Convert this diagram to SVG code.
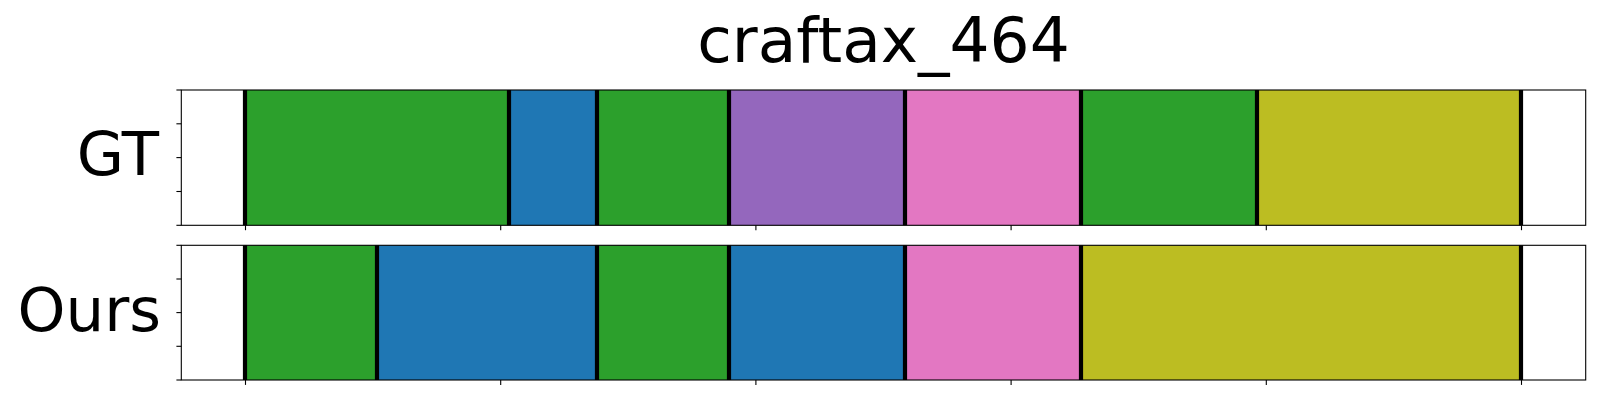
<svg xmlns="http://www.w3.org/2000/svg" width="1600" height="400" viewBox="0 0 1600 400">
<style>
  text { font-family: "DejaVu Sans", "Liberation Sans", sans-serif; fill: #000; }
  .title { font-size: 63px; text-anchor: middle; }
  .lab { font-size: 61px; text-anchor: end; }
  .green { fill: #2ca02c; }
  .blue { fill: #1f77b4; }
  .purple { fill: #9467bd; }
  .pink { fill: #e377c2; }
  .olive { fill: #bcbd22; }
  .frame { fill: none; stroke: #000; stroke-width: 1.1; }
  .tick { stroke: #000; stroke-width: 1.1; }
  .bound { stroke: #000; stroke-width: 4.2; }
</style>
<rect width="1600" height="400" fill="#fff"/>
<text class="title" x="883.5" y="61.7">craftax_464</text>

<g id="gt">
  <rect class="green" x="245" y="90" width="264" height="135.3"/>
  <rect class="blue" x="509" y="90" width="88" height="135.3"/>
  <rect class="green" x="597" y="90" width="132" height="135.3"/>
  <rect class="purple" x="729" y="90" width="176" height="135.3"/>
  <rect class="pink" x="905" y="90" width="176" height="135.3"/>
  <rect class="green" x="1081" y="90" width="176" height="135.3"/>
  <rect class="olive" x="1257" y="90" width="264" height="135.3"/>
  <g>
    <line class="bound" x1="245" y1="90" x2="245" y2="225.3"/>
    <line class="bound" x1="509" y1="90" x2="509" y2="225.3"/>
    <line class="bound" x1="597" y1="90" x2="597" y2="225.3"/>
    <line class="bound" x1="729" y1="90" x2="729" y2="225.3"/>
    <line class="bound" x1="905" y1="90" x2="905" y2="225.3"/>
    <line class="bound" x1="1081" y1="90" x2="1081" y2="225.3"/>
    <line class="bound" x1="1257" y1="90" x2="1257" y2="225.3"/>
    <line class="bound" x1="1521" y1="90" x2="1521" y2="225.3"/>
  </g>
  <rect class="frame" x="181.3" y="90" width="1404.4" height="135.3"/>
  <g>
    <line class="tick" x1="176.4" y1="90" x2="181.3" y2="90"/>
    <line class="tick" x1="176.4" y1="123.8" x2="181.3" y2="123.8"/>
    <line class="tick" x1="176.4" y1="157.6" x2="181.3" y2="157.6"/>
    <line class="tick" x1="176.4" y1="191.5" x2="181.3" y2="191.5"/>
    <line class="tick" x1="176.4" y1="225.3" x2="181.3" y2="225.3"/>
    <line class="tick" x1="245.5" y1="225.3" x2="245.5" y2="230.2"/>
    <line class="tick" x1="500.7" y1="225.3" x2="500.7" y2="230.2"/>
    <line class="tick" x1="755.9" y1="225.3" x2="755.9" y2="230.2"/>
    <line class="tick" x1="1011.1" y1="225.3" x2="1011.1" y2="230.2"/>
    <line class="tick" x1="1266.3" y1="225.3" x2="1266.3" y2="230.2"/>
    <line class="tick" x1="1521.5" y1="225.3" x2="1521.5" y2="230.2"/>
  </g>
  <text class="lab" x="159" y="175">GT</text>
</g>

<g id="ours">
  <rect class="green" x="245" y="245.3" width="132" height="134.7"/>
  <rect class="blue" x="377" y="245.3" width="220" height="134.7"/>
  <rect class="green" x="597" y="245.3" width="132" height="134.7"/>
  <rect class="blue" x="729" y="245.3" width="176" height="134.7"/>
  <rect class="pink" x="905" y="245.3" width="176" height="134.7"/>
  <rect class="olive" x="1081" y="245.3" width="440" height="134.7"/>
  <g>
    <line class="bound" x1="245" y1="245.3" x2="245" y2="380"/>
    <line class="bound" x1="377" y1="245.3" x2="377" y2="380"/>
    <line class="bound" x1="597" y1="245.3" x2="597" y2="380"/>
    <line class="bound" x1="729" y1="245.3" x2="729" y2="380"/>
    <line class="bound" x1="905" y1="245.3" x2="905" y2="380"/>
    <line class="bound" x1="1081" y1="245.3" x2="1081" y2="380"/>
    <line class="bound" x1="1521" y1="245.3" x2="1521" y2="380"/>
  </g>
  <rect class="frame" x="181.3" y="245.3" width="1404.4" height="134.7"/>
  <g>
    <line class="tick" x1="176.4" y1="245.3" x2="181.3" y2="245.3"/>
    <line class="tick" x1="176.4" y1="279" x2="181.3" y2="279"/>
    <line class="tick" x1="176.4" y1="312.6" x2="181.3" y2="312.6"/>
    <line class="tick" x1="176.4" y1="346.3" x2="181.3" y2="346.3"/>
    <line class="tick" x1="176.4" y1="380" x2="181.3" y2="380"/>
    <line class="tick" x1="245.5" y1="380" x2="245.5" y2="384.9"/>
    <line class="tick" x1="500.7" y1="380" x2="500.7" y2="384.9"/>
    <line class="tick" x1="755.9" y1="380" x2="755.9" y2="384.9"/>
    <line class="tick" x1="1011.1" y1="380" x2="1011.1" y2="384.9"/>
    <line class="tick" x1="1266.3" y1="380" x2="1266.3" y2="384.9"/>
    <line class="tick" x1="1521.5" y1="380" x2="1521.5" y2="384.9"/>
  </g>
  <text class="lab" x="161" y="330.7">Ours</text>
</g>
</svg>
